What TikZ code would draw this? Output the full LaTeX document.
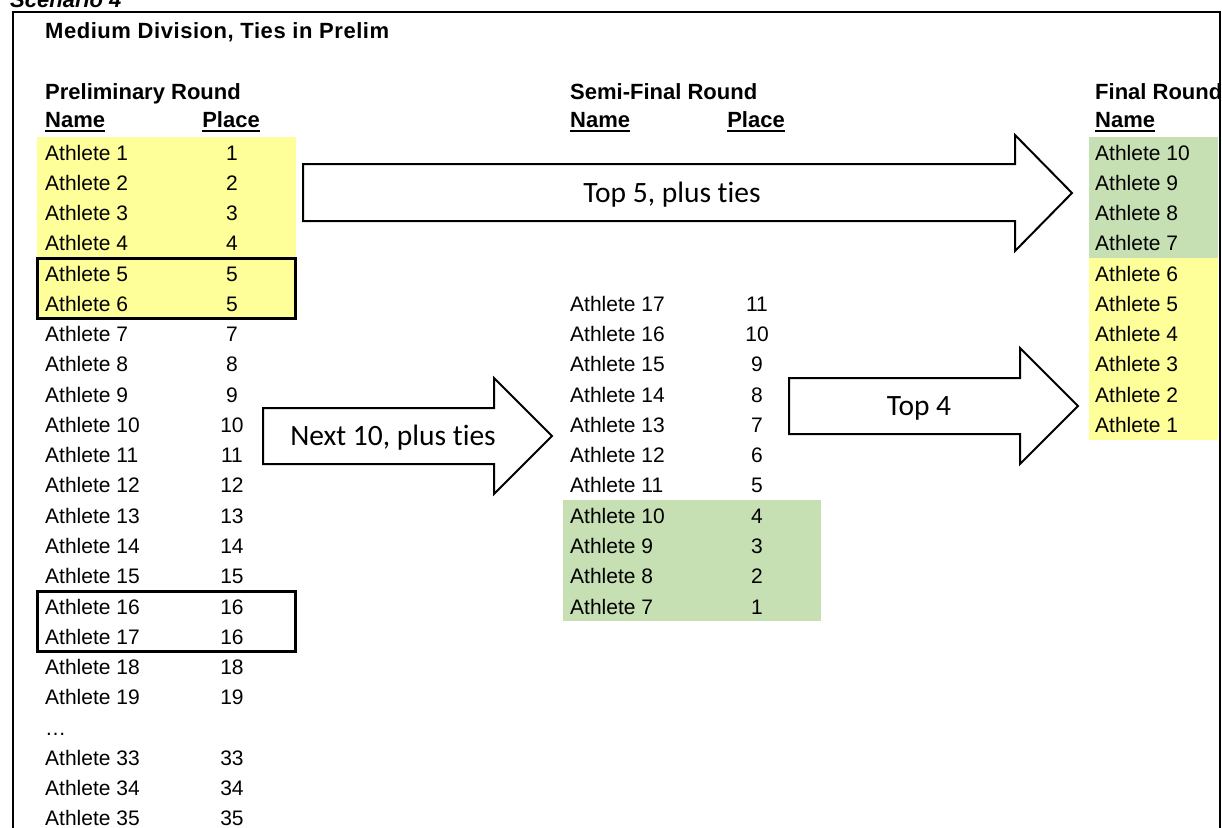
\documentclass[tikz,border=0pt]{standalone}
\usepackage{fontspec}
\setmainfont{Liberation Sans}
\newfontfamily\calfont[Ligatures=NoCommon]{Carlito}
\definecolor{hlyellow}{HTML}{FFFF99}
\definecolor{hlgreen}{HTML}{C6E0B4}
\begin{document}
\begin{tikzpicture}[x=1pt,y=-1pt,
  txt/.style={inner sep=0pt,anchor=base west,font=\fontsize{21}{25}\selectfont},
  num/.style={inner sep=0pt,anchor=base,font=\fontsize{21}{25}\selectfont},
  hdr/.style={inner sep=0pt,anchor=base west,font=\fontsize{22}{26}\selectfont\bfseries},
  arrowshape/.style={draw=black,line width=2pt,fill=white,line join=miter},
  arrowtext/.style={inner sep=0pt,anchor=base,font=\fontsize{29.5}{33}\selectfont\calfont},
  tiebox/.style={draw=black,line width=3pt},
  uline/.style={line width=1.8pt}]
\useasboundingbox (0,0) rectangle (1222,827);
\def\rowh{30.27}
% frame
\draw[line width=2pt] (13,835) -- (13,12) -- (1219.5,12) -- (1219.5,835);
\node[inner sep=0pt,anchor=base west,font=\fontsize{22}{26}\selectfont\bfseries\itshape] (scen) at (10,7) {Scenario 4};
% highlights
\fill[hlyellow] (37,137) rectangle (296,{137+6*\rowh});
\fill[hlgreen] (563,{137+12*\rowh}) rectangle (821,{137+16*\rowh});
\fill[hlgreen] (1089,137) rectangle (1218,{137+4*\rowh});
\fill[hlyellow] (1089,{137+4*\rowh}) rectangle (1218,{137+10*\rowh});
% title & headers
\node[hdr,font=\fontsize{22}{26}\selectfont\bfseries\addfontfeature{LetterSpace=2.5}] (title) at (45,38) {Medium Division, Ties in Prelim};
\node[hdr] (prh) at (45,99) {Preliminary Round};
\node[hdr] (sfh) at (570,99) {Semi-Final Round};
\node[hdr] (fnh) at (1095,99) {Final Round};
\node[hdr] (pn) at (45,127.5) {Name};
\node[hdr,anchor=base] (pp) at (231,127.5) {Place};
\node[hdr] (sn) at (570,127.5) {Name};
\node[hdr,anchor=base] (sp) at (756,127.5) {Place};
\node[hdr] (fn) at (1095,127.5) {Name};
\foreach \n in {pn,pp,sn,sp,fn}{
  \draw[uline] ([yshift=-3.5pt]\n.base west) -- ([yshift=-3.5pt]\n.base east);
}
% preliminary
\foreach \i/\a/\p in {0/1/1,1/2/2,2/3/3,3/4/4,4/5/5,5/6/5,6/7/7,7/8/8,8/9/9,9/10/10,10/11/11,11/12/12,12/13/13,13/14/14,14/15/15,15/16/16,16/17/16,17/18/18,18/19/19,20/33/33,21/34/34,22/35/35}{
  \node[txt] (pa\i) at (45,{160+\i*\rowh}) {Athlete \a};
  \node[num] (pq\i) at (232,{160+\i*\rowh}) {\p};
}
\node[txt] (dots) at (45,{160+19*\rowh}) {\dots};
% tie boxes
\draw[tiebox] (37,{137+4*\rowh}) rectangle (295,{137+6*\rowh});
\draw[tiebox] (37,{137+15*\rowh}) rectangle (295,{137+17*\rowh});
% semi-final
\foreach \i/\a/\p in {5/17/11,6/16/10,7/15/9,8/14/8,9/13/7,10/12/6,11/11/5,12/10/4,13/9/3,14/8/2,15/7/1}{
  \node[txt] (sa\i) at (570,{160+\i*\rowh}) {Athlete \a};
  \node[num] (sq\i) at (757,{160+\i*\rowh}) {\p};
}
% final
\foreach \i/\a in {0/10,1/9,2/8,3/7,4/6,5/5,6/4,7/3,8/2,9/1}{
  \node[txt] (fa\i) at (1095,{160+\i*\rowh}) {Athlete \a};
}
% arrows
\draw[arrowshape] (303,164) -- (1015,164) -- (1015,135) -- (1072,193) -- (1015,251) -- (1015,221) -- (303,221) -- cycle;
\node[arrowtext] (a1) at (672,202) {Top 5, plus ties};
\draw[arrowshape] (263,408) -- (494,408) -- (494,378) -- (552,436) -- (494,494) -- (494,464) -- (263,464) -- cycle;
\node[arrowtext] (a2) at (393,445) {Next 10, plus ties};
\draw[arrowshape] (789,378) -- (1020,378) -- (1020,348) -- (1078,406) -- (1020,464) -- (1020,434) -- (789,434) -- cycle;
\node[arrowtext] (a3) at (919,415) {Top 4};
\end{tikzpicture}
\end{document}
